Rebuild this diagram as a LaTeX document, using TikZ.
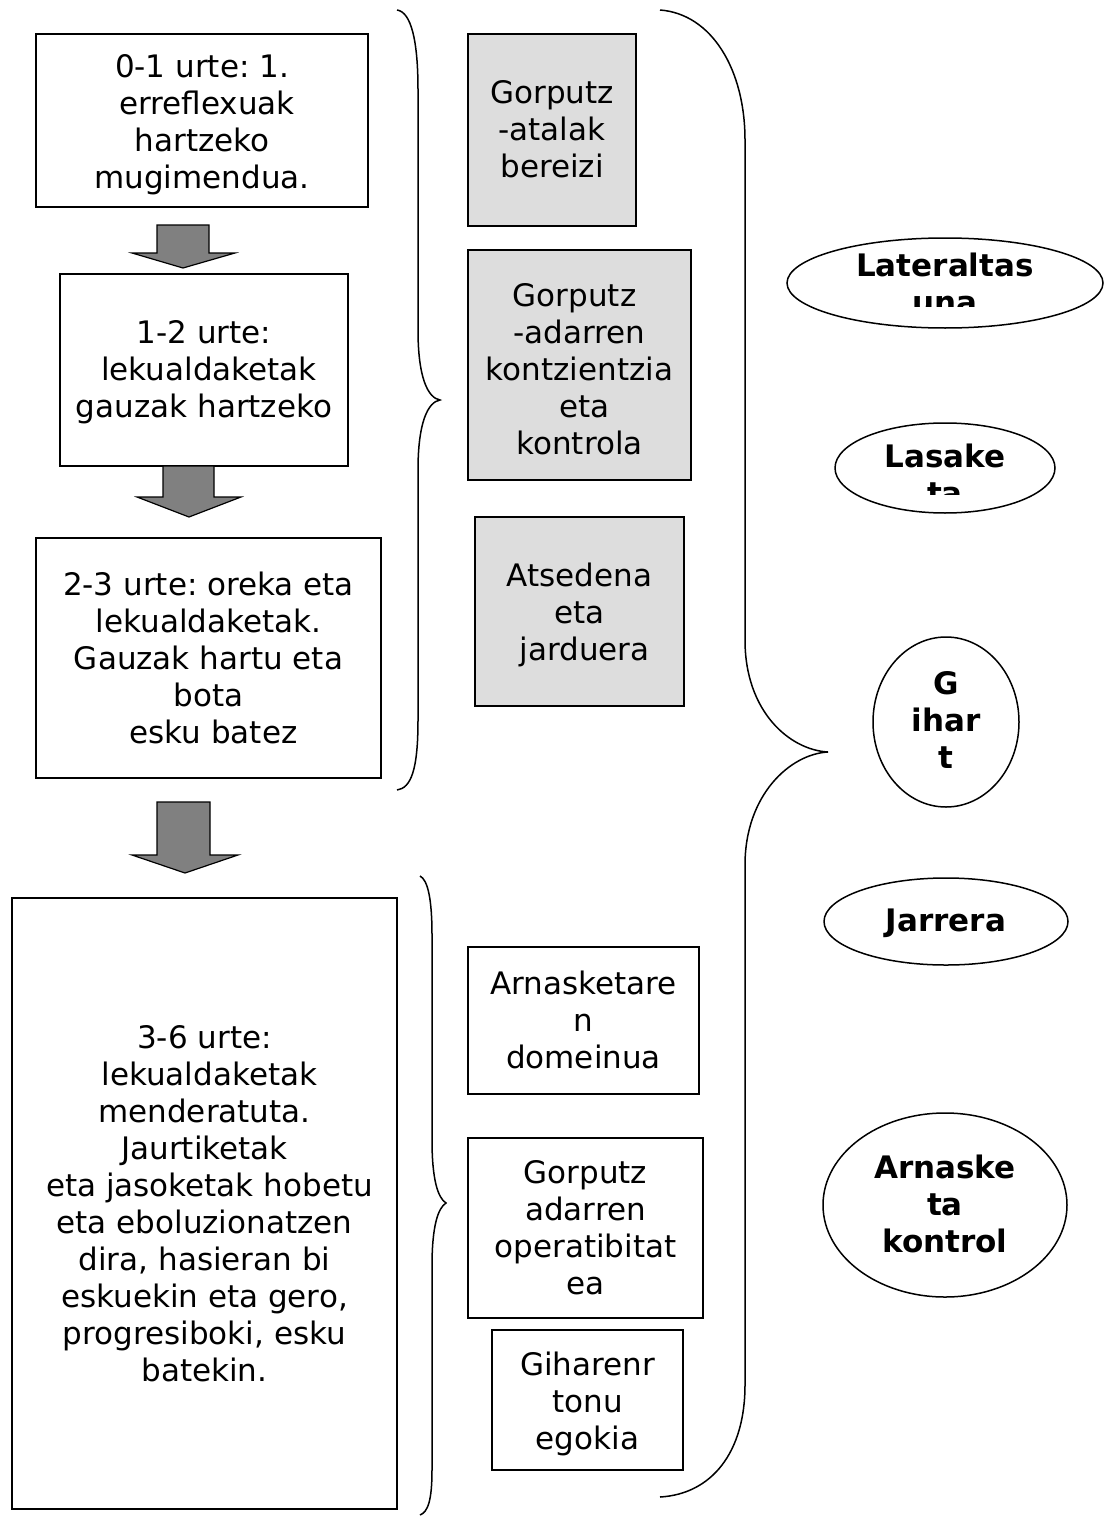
\documentclass[tikz,border=0pt]{standalone}
\usepackage{fontspec}
\setmainfont{DejaVu Sans}
\usetikzlibrary{shapes.geometric,fit}
\definecolor{boxgray}{HTML}{DDDDDD}
\definecolor{arrowgray}{HTML}{808080}
\newcommand{\tstrut}{\rule[-7.75pt]{0pt}{32.55pt}}
\newcommand{\lsp}{\hspace*{9.9pt}}
\frenchspacing
\begin{document}
\begin{tikzpicture}[x=1pt,y=-1pt,
  txt/.style={font=\fontsize{31}{37}\selectfont, align=center, inner sep=0pt},
  btxt/.style={font=\fontsize{31}{37}\selectfont\bfseries, align=center, inner sep=0pt},
  box/.style={draw=black, line width=1.5pt, inner sep=0pt, rectangle},
  gbox/.style={box, fill=boxgray},
  ell/.style={draw=black, line width=1.5pt, ellipse, inner sep=0pt},
  blockarrow/.style={draw=black, line width=1.2pt, fill=arrowgray, line join=miter},
  brace/.style={draw=black, line width=1.5pt}]
\fill[white] (0,0) rectangle (1108,1517);
\useasboundingbox (0,0) rectangle (1108,1517);

% left column boxes
\node[box, fit={(36,34) (368,207)}] (b1) {};
\node[txt] (t1) at (202,124) {\tstrut 0-1 urte: 1.\\\lsp erreflexuak\\hartzeko\\mugimendua.\tstrut};
\node[box, fit={(60,274) (348,466)}] (b2) {};
\node[txt] (t2) at (204,371.5) {\tstrut 1-2 urte:\\\lsp lekualdaketak\\gauzak hartzeko\tstrut};
\node[box, fit={(36,538) (381,778)}] (b3) {};
\node[txt] (t3) at (208.5,661) {\tstrut 2-3 urte: oreka eta\\lekualdaketak.\\Gauzak hartu eta\\bota\\\lsp esku batez\tstrut};
\node[box, fit={(12,898) (397,1509)}] (b4) {};
\node[txt] (t4) at (204.5,1206.5) {\tstrut 3-6 urte:\\\lsp lekualdaketak\\menderatuta.\lsp\\Jaurtiketak\\\lsp eta jasoketak hobetu\\eta eboluzionatzen\lsp\\dira, hasieran bi\lsp\\eskuekin eta gero,\\progresiboki, esku\lsp\\batekin.\tstrut};

% block arrows
\draw[blockarrow] (157,225) -- (209,225) -- (209,253) -- (235,253) -- (183,268) -- (132,253) -- (157,253) -- cycle;
\draw[blockarrow] (163,466) -- (214,466) -- (214,497) -- (241,497) -- (189,517) -- (137,497) -- (163,497) -- cycle;
\draw[blockarrow] (157,802) -- (210,802) -- (210,855) -- (238,855) -- (185,873) -- (132,855) -- (157,855) -- cycle;

% middle column gray boxes
\node[gbox, fit={(468,34) (636,226)}] (g1) {};
\node[txt] (gt1) at (552,131.5) {\tstrut Gorputz\\-atalak\\bereizi\tstrut};
\node[gbox, fit={(468,250) (691,480)}] (g2) {};
\node[txt] (gt2) at (579.5,372) {\tstrut Gorputz\lsp\\-adarren\lsp\\kontzientzia\\\lsp eta\\kontrola\tstrut};
\node[gbox, fit={(475,517) (684,706)}] (g3) {};
\node[txt] (gt3) at (579.5,614.5) {\tstrut Atsedena\\eta\\\lsp jarduera\tstrut};

% middle column white boxes
\node[box, fit={(468,947) (699,1094)}] (w1) {};
\node[txt] (wt1) at (583.5,1022.5) {\tstrut Arnasketare\\n\\domeinua\tstrut};
\node[box, fit={(468,1138) (703,1318)}] (w2) {};
\node[txt] (wt2) at (585.5,1230.5) {\tstrut Gorputz\\adarren\\operatibitat\\ea\tstrut};
\node[box, fit={(492,1330) (683,1470)}] (w3) {};
\node[txt] (wt3) at (587.5,1404) {\tstrut Giharenr\\tonu\\egokia\tstrut};

% braces
\draw[brace] (397,10) .. controls (411,12) and (418,40) .. (418,90) -- (418,330)
  .. controls (418,378) and (428,398) .. (440,400)
  .. controls (428,402) and (418,422) .. (418,470) -- (418,720)
  .. controls (418,770) and (411,788) .. (397,790);
\draw[brace] (420,876) .. controls (428,880) and (432,900) .. (432,935) -- (432,1140)
  .. controls (432,1180) and (438,1198) .. (446,1203)
  .. controls (438,1208) and (432,1226) .. (432,1266) -- (432,1470)
  .. controls (432,1500) and (428,1512) .. (420,1515);
\draw[brace] (660,10) .. controls (712,14) and (745,70) .. (745,140) -- (745,640)
  .. controls (745,712) and (790,750) .. (828,752)
  .. controls (790,754) and (745,795) .. (745,865) -- (745,1385)
  .. controls (745,1452) and (712,1494) .. (660,1497);

% right column ellipses
\node[ell, minimum width=316pt, minimum height=90pt] (e1) at (945,283) {};
\begin{scope}
  \clip (788,200) rectangle (1102,306);
  \node[btxt] (et1) at (945,286) {\tstrut Lateraltas\\una\tstrut};
\end{scope}
\node[ell, minimum width=220pt, minimum height=90pt] (e2) at (945,468) {};
\begin{scope}
  \clip (836,400) rectangle (1055,494);
  \node[btxt] (et2) at (945,477) {\tstrut Lasake\\ta\tstrut};
\end{scope}
\node[ell, minimum width=146pt, minimum height=170pt] (e3) at (946,722) {};
\node[btxt] (et3) at (946,723) {\tstrut G\\ihar\\t\tstrut};
\node[ell, minimum width=244pt, minimum height=87pt] (e4) at (946,921.5) {};
\node[btxt] (et4) at (946,922.5) {\tstrut Jarrera\tstrut};
\node[ell, minimum width=244pt, minimum height=184pt] (e5) at (945,1205) {};
\node[btxt] (et5) at (945,1206.5) {\tstrut Arnaske\\ta\\kontrol\tstrut};
\end{tikzpicture}
\end{document}
